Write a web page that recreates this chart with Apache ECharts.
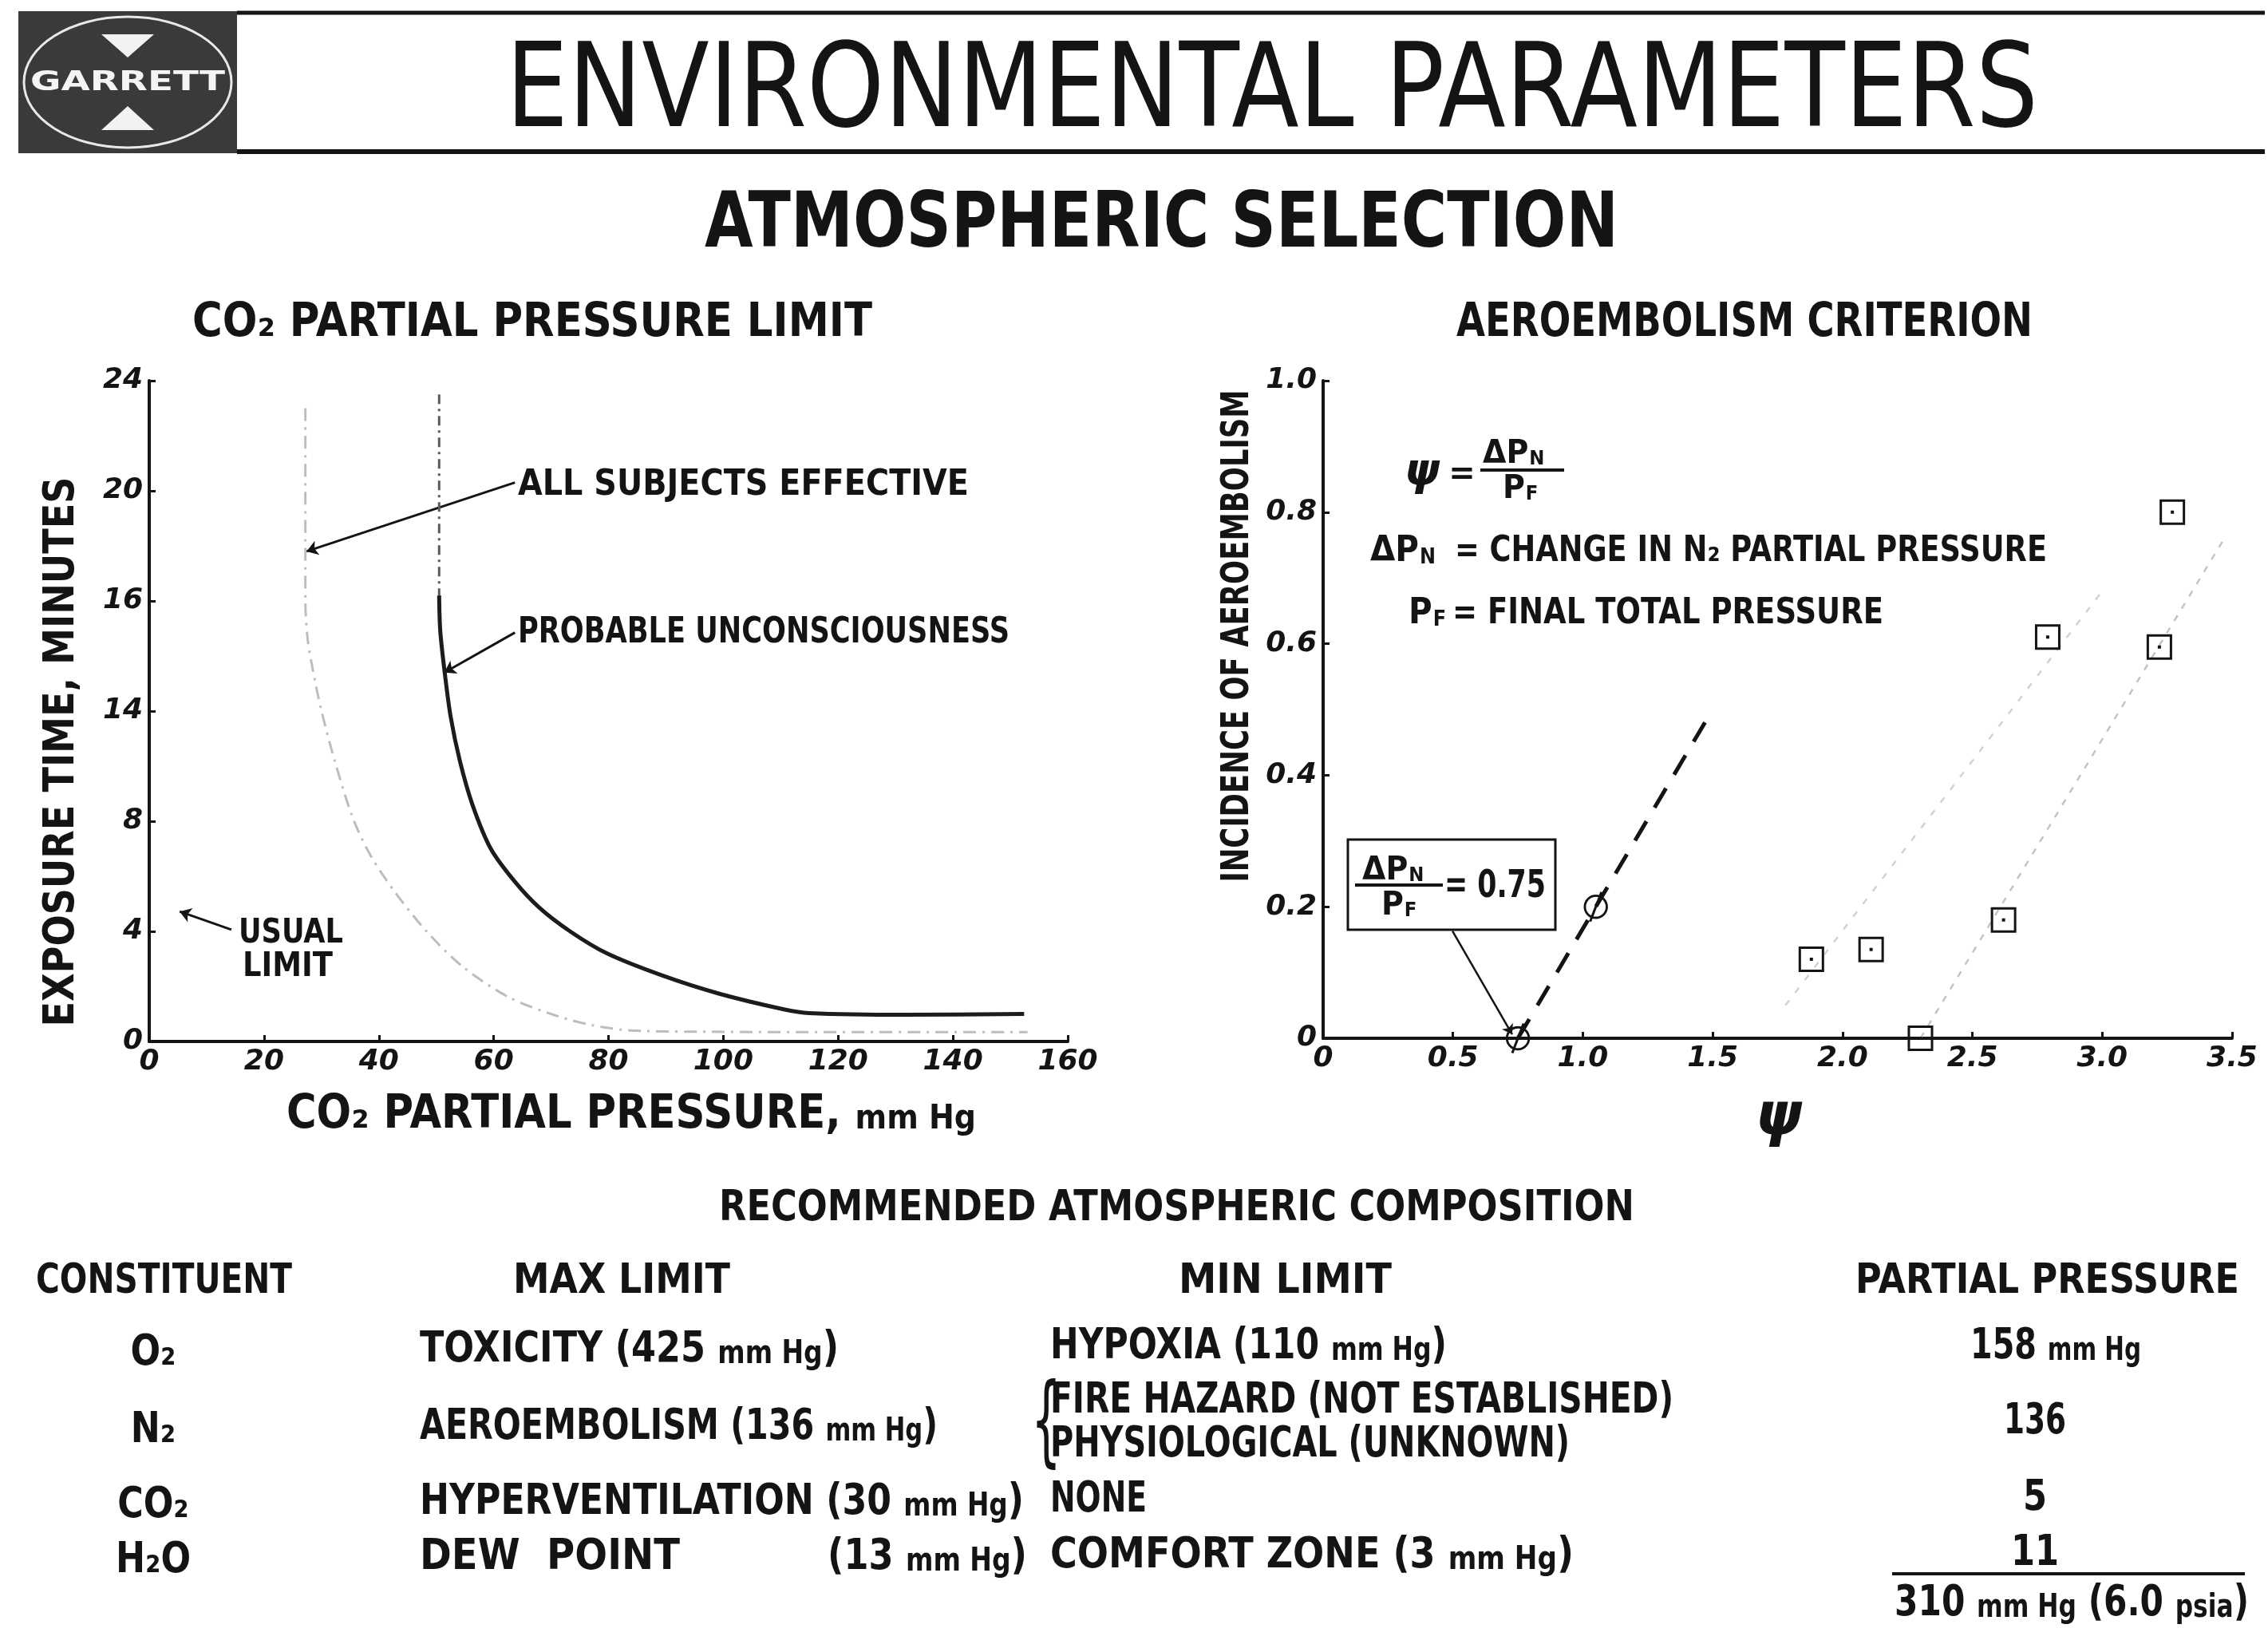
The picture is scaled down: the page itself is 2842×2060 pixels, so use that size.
<!DOCTYPE html>
<html>
<head>
<meta charset="utf-8">
<script src="https://cdn.jsdelivr.net/npm/echarts@6/dist/echarts.min.js"></script>
<style>
html,body{margin:0;padding:0;background:#fff;}
#chart{width:2842px;height:2060px;}
</style>
</head>
<body>
<div id="chart"></div>
<script>
// ---------- DATA ----------
const leftXLabels = ['0','20','40','60','80','100','120','140','160'];
const leftYLabels = ['0','4','8','14','16','20','24'];
const rightXLabels = ['0','0.5','1.0','1.5','2.0','2.5','3.0','3.5'];
const rightYLabels = ['0','0.2','0.4','0.6','0.8','1.0'];

// CO2 partial pressure limit curves (x: mm Hg, y: minutes)
const allEffX = [27.2, 27.2, 27.6, 28.5, 29.9, 32.3, 35.5, 38.7, 42.9, 48.3, 54.7, 62.7, 70.7, 77, 84, 100, 120, 140, 153];
const allEffY = [23.0, 16.0, 14.6, 13.5, 12.1, 10.2, 8.1, 6.7, 5.4, 4.0, 2.7, 1.6, 0.95, 0.6, 0.4, 0.35, 0.34, 0.34, 0.34];
const unconDashX = [50.5, 50.5];
const unconDashY = [23.5, 16.2];
const unconX = [50.5, 50.7, 51.5, 52.5, 54.1, 56.3, 59.5, 63.7, 68, 73.3, 79.7, 89.3, 99.2, 110.7, 115, 131.6, 152.4];
const unconY = [16.2, 14.9, 13.35, 11.8, 10.2, 8.6, 7.0, 5.8, 4.85, 4.0, 3.2, 2.4, 1.74, 1.16, 1.03, 0.97, 1.0];

// Aeroembolism criterion (x: psi, y: incidence)
const circleX = [0.75, 1.05];
const circleY = [0, 0.2];
const dashLineX = [0.75, 1.5];
const dashLineY = [0, 0.5];
const squareX = [1.88, 2.11, 2.30, 2.62, 2.79, 3.22, 3.27];
const squareY = [0.12, 0.135, 0, 0.18, 0.61, 0.595, 0.80];
const faintAX = [1.78, 3.0];
const faintAY = [0.05, 0.68];
const faintBX = [2.30, 3.47];
const faintBY = [0, 0.76];

// annotation pointers (data coords)
const ptrAllEff = [[63.7, 20.3], [27.4, 17.8]];
const ptrUncon = [[63.7, 14.85], [51.4, 13.4]];
const ptrUsual = [[14.3, 4.06], [5.3, 4.72]];
const ptrBox = [[0.498, 0.163], [0.728, 0.006]];

// table
const constituents = ['O₂', 'N₂', 'CO₂', 'H₂O'];
const maxLimits = ['TOXICITY (425 mm Hg)', 'AEROEMBOLISM (136 mm Hg)', 'HYPERVENTILATION (30 mm Hg)', 'DEW  POINT'];
const minLimits = ['HYPOXIA (110 mm Hg)', 'FIRE HAZARD (NOT ESTABLISHED)', 'PHYSIOLOGICAL (UNKNOWN)', 'NONE', 'COMFORT ZONE (3 mm Hg)'];
const partialPressures = ['158 mm Hg', '136', '5', '11'];
const totalPressure = '310 mm Hg (6.0 psia)';

// ---------- HELPERS ----------
const FONT = "'DejaVu Sans', 'Liberation Sans', sans-serif";
const INK = '#141414';
const cv = document.createElement('canvas').getContext('2d');
function measure(text, font) { cv.font = font; return cv.measureText(text).width; }
function T(text, x, y, size, width, o) {
  o = o || {};
  const font = (o.italic ? 'italic ' : '') + (o.weight || 'bold') + ' ' + size + 'px ' + FONT;
  const al = o.align || 'left';
  const rot = o.rotation || 0;
  const off = size * 0.08;
  if (rot) { x += off; } else { y += off; }
  let style;
  let w;
  if (/mm Hg|psia/.test(text) && !o.plain) {
    const sFont = 'bold ' + Math.round(size * 0.74) + 'px ' + FONT;
    const parts = text.split(/(mm Hg|psia)/).filter(s => s.length);
    w = 0;
    const toks = parts.map(p => {
      const small = (p === 'mm Hg' || p === 'psia');
      w += measure(p, small ? sFont : font);
      return '{' + (small ? 'm' : 'a') + '|' + p + '}';
    });
    style = { text: toks.join(''), fill: o.color || INK, align: al, textAlign: al,
      verticalAlign: 'middle', textVerticalAlign: 'middle',
      rich: { a: { font: font, fill: o.color || INK, verticalAlign: 'bottom' },
              m: { font: sFont, fill: o.color || INK, verticalAlign: 'bottom', padding: [0, 0, 2, 0] } } };
  } else {
    w = measure(text, font);
    style = { text: text, font: font, fill: o.color || INK, align: al, textAlign: al,
      verticalAlign: 'middle', textVerticalAlign: 'middle' };
  }
  const sx = width ? width / w : (o.sx || 1);
  return { type: 'text', x: x, y: y, rotation: rot, scaleX: sx, z: 100, style: style };
}
function sub(main, s, x, y, size, o) {
  o = o || {};
  const f1 = 'bold ' + size + 'px ' + FONT;
  const w = measure(main, f1) * (o.sx || 1);
  return [
    T(main, x, y, size, null, { sx: o.sx || 1 }),
    T(s, x + w + 1, y + size * 0.2, Math.round(size * 0.6), null, { sx: o.sx || 1 })
  ];
}
function zip(a, b) { return a.map((v, i) => [v, b[i]]); }
function L(x1, y1, x2, y2, w, c) {
  return { type: 'line', z: 90, shape: { x1: x1, y1: y1, x2: x2, y2: y2 }, style: { stroke: c || INK, lineWidth: w } };
}

const squarePath = 'path://M0,0L32,0L32,32L0,32Z M3,3L3,29L29,29L29,3Z M14,14L18,14L18,18L14,18Z';
const circlePath = 'path://M16,0A16,16,0,1,1,16,32A16,16,0,1,1,16,0Z M16,3A13,13,0,1,0,16,29A13,13,0,1,0,16,3Z M22,-4L25,-3L10,36L7,35Z';

// ---------- GRAPHIC ----------
const g = [];
// logo
g.push({ type: 'rect', z: 80, shape: { x: 23, y: 14, width: 274, height: 178 }, style: { fill: '#3a3a3a' } });
g.push({ type: 'ellipse', z: 81, shape: { cx: 160, cy: 103, rx: 130, ry: 82 }, style: { fill: 'none', stroke: '#e8e8e8', lineWidth: 3 } });
g.push({ type: 'polygon', z: 81, shape: { points: [[127, 43], [193, 43], [160, 72]] }, style: { fill: '#f2f2f2' } });
g.push({ type: 'polygon', z: 81, shape: { points: [[127, 163], [193, 163], [160, 133]] }, style: { fill: '#f2f2f2' } });
g.push(T('GARRETT', 160, 101, 34, 244, { align: 'center', color: '#f4f4f4', weight: '900' }));
// header rules
g.push(L(297, 16, 2838, 16, 5));
g.push(L(297, 190, 2838, 190, 6));
g.push(T('ENVIRONMENTAL PARAMETERS', 634, 108, 146, 1920, { weight: 'normal' }));
g.push(T('ATMOSPHERIC SELECTION', 883, 276, 96, 1145));
// chart titles
g.push(T('CO₂ PARTIAL PRESSURE LIMIT', 241, 401, 58, 852));
g.push(T('AEROEMBOLISM CRITERION', 1825, 401, 58, 722));
// axis names
g.push(T('EXPOSURE TIME, MINUTES', 74, 942, 54, 689, { align: 'center', rotation: Math.PI / 2 }));
g.push(T('CO₂ PARTIAL PRESSURE, mm Hg', 359, 1393, 58, 864));
g.push(T('INCIDENCE OF AEROEMBOLISM', 1548, 797, 48, 617, { align: 'center', rotation: Math.PI / 2 }));
g.push(T('ψ', 2229, 1396, 74, null, { align: 'center', italic: true }));
// left annotations
g.push(T('ALL SUBJECTS EFFECTIVE', 649, 605, 44, 565));
g.push(T('PROBABLE UNCONSCIOUSNESS', 649, 790, 44, 616));
g.push(T('USUAL', 299, 1167, 42, 131));
g.push(T('LIMIT', 304, 1209, 42, 113));
// right annotations: formula
g.push(T('ψ', 1782, 588, 56, null, { align: 'center', italic: true }));
g.push(T('=', 1832, 592, 40, null, { align: 'center' }));
g.push(...sub('ΔP', 'N', 1858, 566, 40, { sx: 0.95 }));
g.push(L(1855, 589, 1960, 589, 4));
g.push(...sub('P', 'F', 1883, 610, 40, { sx: 0.95 }));
g.push(...sub('ΔP', 'N', 1717, 688, 44, { sx: 0.92 }));
g.push(T('= CHANGE IN N₂ PARTIAL PRESSURE', 1823, 688, 44, 742));
g.push(...sub('P', 'F', 1765, 766, 44, { sx: 0.92 }));
g.push(T('= FINAL TOTAL PRESSURE', 1820, 766, 44, 540));
// boxed note
g.push({ type: 'rect', z: 90, shape: { x: 1689, y: 1052, width: 260, height: 113 }, style: { fill: '#fff', stroke: INK, lineWidth: 3 } });
g.push(...sub('ΔP', 'N', 1707, 1088, 40, { sx: 0.95 }));
g.push(L(1698, 1109, 1808, 1109, 4));
g.push(...sub('P', 'F', 1731, 1132, 40, { sx: 0.95 }));
g.push(T('= 0.75', 1810, 1108, 48, 127));
// table
g.push(T('RECOMMENDED ATMOSPHERIC COMPOSITION', 901, 1511, 54, 1147));
g.push(T('CONSTITUENT', 45, 1602, 52, 321));
g.push(T('MAX LIMIT', 643, 1602, 52, 272));
g.push(T('MIN LIMIT', 1477, 1602, 52, 267));
g.push(T('PARTIAL PRESSURE', 2325, 1602, 52, 481));
const rowY = [1692, 1789, 1883, 1952];
constituents.forEach((c, i) => g.push(T(c, 192, rowY[i], 54, null, { align: 'center', sx: 0.82 })));
const maxW = [525, 649, 757, 326];
maxLimits.forEach((t, i) => g.push(T(t, 526, rowY[i] - 4, 54, maxW[i])));
g.push(T('(13 mm Hg)', 1037, 1948, 54, 250));
const minPos = [[1684, 497], [1752, 781], [1807, 651], [1876, 121], [1946, 656]];
minLimits.forEach((t, i) => g.push(T(t, 1316, minPos[i][0], 54, minPos[i][1])));
g.push(T('{', 1292, 1780, 124, 38, { weight: 'normal' }));
const ppPos = [[2576, 1684, 214], [2550, 1778, 78], [2550, 1874, null], [2550, 1943, null]];
partialPressures.forEach((t, i) => g.push(T(t, ppPos[i][0], ppPos[i][1], 54, ppPos[i][2], { align: 'center', sx: 0.8 })));
g.push(L(2371, 1972, 2813, 1972, 4));
g.push(T(totalPressure, 2374, 2006, 54, 444));

// ---------- CHART ----------
function axisCommon(labels, step, extra) {
  return Object.assign({
    type: 'value',
    axisLine: { show: true, onZero: false, lineStyle: { color: INK, width: 4 } },
    axisTick: { show: true, inside: true, length: 8, lineStyle: { color: INK, width: 3 } },
    axisLabel: { color: INK, fontFamily: FONT, fontSize: 36, fontStyle: 'italic', fontWeight: 'bold',
                 formatter: v => labels[Math.round(v / step)] },
    splitLine: { show: false }
  }, extra);
}

const chart = echarts.init(document.getElementById('chart'), null, { renderer: 'canvas' });
chart.setOption({
  backgroundColor: '#ffffff',
  animation: false,
  grid: [
    { left: 187, top: 477, width: 1151, height: 828 },
    { left: 1658, top: 477, width: 1139, height: 824 }
  ],
  xAxis: [
    axisCommon(leftXLabels, 20, { gridIndex: 0, min: 0, max: 160, interval: 20 }),
    axisCommon(rightXLabels, 0.5, { gridIndex: 1, min: 0, max: 3.5, interval: 0.5 })
  ],
  yAxis: [
    axisCommon(leftYLabels, 4, { gridIndex: 0, min: 0, max: 24, interval: 4 }),
    axisCommon(rightYLabels, 0.2, { gridIndex: 1, min: 0, max: 1.0, interval: 0.2 })
  ],
  series: [
    { name: 'ALL SUBJECTS EFFECTIVE', type: 'line', xAxisIndex: 0, yAxisIndex: 0, data: zip(allEffX, allEffY),
      smooth: 0.3, showSymbol: false, silent: true,
      lineStyle: { color: '#bdbdbd', width: 3, type: [16, 8, 3, 8] } },
    { name: 'PROBABLE UNCONSCIOUSNESS (upper)', type: 'line', xAxisIndex: 0, yAxisIndex: 0, data: zip(unconDashX, unconDashY),
      showSymbol: false, silent: true, lineStyle: { color: '#5a5a5a', width: 3, type: [12, 6, 3, 6] } },
    { name: 'PROBABLE UNCONSCIOUSNESS', type: 'line', xAxisIndex: 0, yAxisIndex: 0, data: zip(unconX, unconY),
      smooth: 0.3, showSymbol: false, silent: true, lineStyle: { color: '#1c1c1c', width: 5 } },
    { type: 'lines', coordinateSystem: 'cartesian2d', xAxisIndex: 0, yAxisIndex: 0, silent: true,
      symbol: ['none', 'arrow'], symbolSize: 14,
      lineStyle: { color: INK, width: 3, opacity: 1, curveness: 0 },
      data: [{ coords: ptrAllEff }, { coords: ptrUncon }, { coords: ptrUsual }] },
    { name: 'faint A', type: 'line', xAxisIndex: 1, yAxisIndex: 1, data: zip(faintAX, faintAY),
      showSymbol: false, silent: true, lineStyle: { color: '#d2d2d2', width: 2.5, type: [8, 12] } },
    { name: 'faint B', type: 'line', xAxisIndex: 1, yAxisIndex: 1, data: zip(faintBX, faintBY),
      showSymbol: false, silent: true, lineStyle: { color: '#c4c4c4', width: 2.5, type: [8, 10] } },
    { name: 'ΔPN/PF = 0.75', type: 'line', xAxisIndex: 1, yAxisIndex: 1, data: zip(dashLineX, dashLineY),
      showSymbol: false, silent: true, lineStyle: { color: INK, width: 5, type: [28, 20] } },
    { type: 'lines', coordinateSystem: 'cartesian2d', xAxisIndex: 1, yAxisIndex: 1, silent: true,
      symbol: ['none', 'arrow'], symbolSize: 12,
      lineStyle: { color: INK, width: 2.5, opacity: 1, curveness: 0 },
      data: [{ coords: ptrBox }] },
    { name: 'circles', type: 'scatter', xAxisIndex: 1, yAxisIndex: 1, data: zip(circleX, circleY),
      symbol: circlePath, symbolSize: 38, symbolKeepAspect: true, silent: true, z: 5,
      itemStyle: { color: INK, opacity: 1 } },
    { name: 'squares', type: 'scatter', xAxisIndex: 1, yAxisIndex: 1, data: zip(squareX, squareY),
      symbol: squarePath, symbolSize: 32, symbolKeepAspect: true, silent: true, z: 5,
      itemStyle: { color: INK, opacity: 1 } }
  ],
  graphic: { elements: g }
});
</script>
</body>
</html>
